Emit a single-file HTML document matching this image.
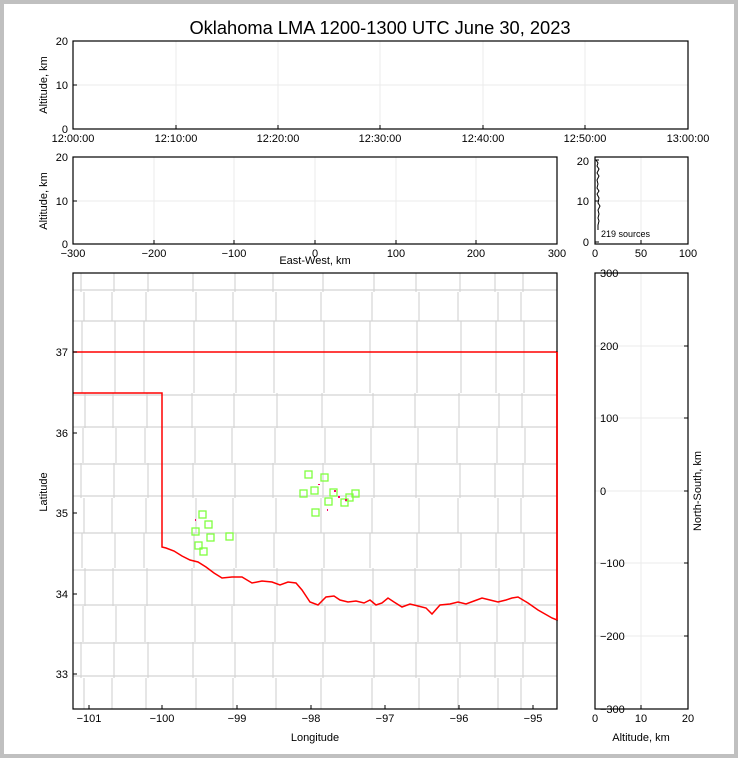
<!DOCTYPE html>
<html><head><meta charset="utf-8"><style>
html,body{margin:0;padding:0;background:#fff}
#w{position:relative;width:730px;height:750px;border:4px solid #c0c0c0;overflow:hidden}
svg{position:absolute;left:-4px;top:-4px;font-family:"Liberation Sans",sans-serif}
</style></head><body><div id="w">
<svg id="s" width="738" height="758" viewBox="0 0 738 758" xmlns="http://www.w3.org/2000/svg">
<g id="grid" stroke="#ebebeb" stroke-width="1"></g>
<g id="cty" stroke="#d4d4d4" stroke-width="1.2" fill="none"></g>
<path d="M73,352 L557,352 L557,620 L552,618 L545,614 L538,610 L528,603 L518,597 L512,598 L506,600 L498,602 L490,600 L482,598 L474,601 L466,604 L458,602 L450,604 L440,605 L432,614 L426,608 L418,606 L410,604 L402,607 L394,602 L388,598 L382,603 L376,605 L370,600 L364,603 L356,601 L348,602 L340,600 L334,596 L326,597 L318,605 L310,602 L302,590 L296,583 L288,582 L280,585 L272,582 L262,581 L252,583 L242,577 L232,577 L222,578 L214,573 L206,567 L198,562 L190,560 L182,556 L174,551 L166,548 L162,547 L162,393 L73,393" fill="none" stroke="#ff0000" stroke-width="1.5"/>
<g fill="none" stroke="#7fff3f" stroke-width="1.3">
<rect x="305" y="471" width="7" height="7"/><rect x="321" y="474" width="7" height="7"/><rect x="311" y="487" width="7" height="7"/><rect x="300" y="490" width="7" height="7"/><rect x="330" y="489" width="7" height="7"/><rect x="325" y="498" width="7" height="7"/><rect x="341" y="499" width="7" height="7"/><rect x="346" y="494" width="7" height="7"/><rect x="352" y="490" width="7" height="7"/><rect x="312" y="509" width="7" height="7"/>
<rect x="199" y="511" width="7" height="7"/><rect x="205" y="521" width="7" height="7"/><rect x="192" y="528" width="7" height="7"/><rect x="207" y="534" width="7" height="7"/><rect x="226" y="533" width="7" height="7"/><rect x="195" y="542" width="7" height="7"/><rect x="200" y="548" width="7" height="7"/>
</g>
<g fill="#ff0066"><rect x="334" y="490" width="2" height="2"/><rect x="338" y="496" width="2" height="2"/><rect x="345" y="499" width="2" height="2"/><rect x="327" y="509" width="1" height="2"/><rect x="195" y="519" width="1" height="2"/><rect x="318" y="484" width="2" height="1"/></g>
<path d="M596,160 l2,3 -1,3 2,3 -2,4 2,3 -2,4 1,4 -1,4 2,3 -2,3 2,4 -1,5 2,3 -2,4 1,4 -1,4 1,3 -1,4 0,5" fill="none" stroke="#000" stroke-width="1"/>
<text x="601" y="237" font-size="9">219 sources</text>
<g fill="none" stroke="#000" stroke-width="1.2">
<rect x="73" y="41" width="615" height="88"/>
<rect x="73" y="157" width="484" height="87"/>
<rect x="595" y="157" width="93" height="87"/>
<rect x="73" y="273" width="484" height="436"/>
<rect x="595" y="273" width="93" height="436"/>
</g>
<line x1="557" y1="352" x2="557" y2="620" stroke="#ff0000" stroke-width="1.5"/>
<g id="ticks" stroke="#000" stroke-width="1"></g>
<g font-size="11" fill="#000">
<text x="380" y="34" font-size="18.3" text-anchor="middle">Oklahoma LMA 1200-1300 UTC June 30, 2023</text>
<g text-anchor="end"><text x="68" y="45">20</text><text x="68" y="89">10</text><text x="68" y="133">0</text>
<text x="68" y="161">20</text><text x="68" y="205">10</text><text x="68" y="248">0</text>
<text x="589" y="165">20</text><text x="589" y="205">10</text><text x="589" y="246">0</text>
<text x="68" y="356">37</text><text x="68" y="437">36</text><text x="68" y="517">35</text><text x="68" y="598">34</text><text x="68" y="678">33</text></g>
<g text-anchor="middle">
<text x="73" y="142">12:00:00</text><text x="176" y="142">12:10:00</text><text x="278" y="142">12:20:00</text><text x="380" y="142">12:30:00</text><text x="483" y="142">12:40:00</text><text x="585" y="142">12:50:00</text><text x="688" y="142">13:00:00</text>
<text x="73" y="257">−300</text><text x="154" y="257">−200</text><text x="234" y="257">−100</text><text x="315" y="257">0</text><text x="396" y="257">100</text><text x="476" y="257">200</text><text x="557" y="257">300</text>
<text x="595" y="257">0</text><text x="641" y="257">50</text><text x="688" y="257">100</text>
<text x="315" y="264">East-West, km</text>
<text x="89" y="722">−101</text><text x="162" y="722">−100</text><text x="237" y="722">−99</text><text x="311" y="722">−98</text><text x="385" y="722">−97</text><text x="459" y="722">−96</text><text x="533" y="722">−95</text>
<text x="315" y="741">Longitude</text>
<text x="595" y="722">0</text><text x="641" y="722">10</text><text x="688" y="722">20</text>
<text x="641" y="741">Altitude, km</text>
</g>
<g text-anchor="start"><text x="600" y="277">300</text><text x="600" y="350">200</text><text x="600" y="422">100</text><text x="600" y="495">0</text><text x="600" y="567">−100</text><text x="600" y="640">−200</text><text x="600" y="713">−300</text></g>
<text transform="translate(47,85) rotate(-90)" text-anchor="middle">Altitude, km</text>
<text transform="translate(47,201) rotate(-90)" text-anchor="middle">Altitude, km</text>
<text transform="translate(47,492) rotate(-90)" text-anchor="middle">Latitude</text>
<text transform="translate(701,491) rotate(-90)" text-anchor="middle">North-South, km</text>
</g>
</svg></div>
<script>
var ns="http://www.w3.org/2000/svg";
function L(g,x1,y1,x2,y2){var e=document.createElementNS(ns,"line");e.setAttribute("x1",x1);e.setAttribute("y1",y1);e.setAttribute("x2",x2);e.setAttribute("y2",y2);document.getElementById(g).appendChild(e);}
[176,278,380,483,585].forEach(x=>L("grid",x,41,x,129));L("grid",73,85,688,85);
[154,234,315,396,476].forEach(x=>L("grid",x,157,x,244));L("grid",73,201,557,201);
[641].forEach(x=>{L("grid",x,157,x,244);L("grid",x,273,x,709);});L("grid",595,201,688,201);
[346,418,491,563,636].forEach(y=>L("grid",595,y,688,y));
function tx(xs,y0,d){xs.forEach(x=>L("ticks",x,y0,x,y0+d));}
function ty(ys,x0,d){ys.forEach(y=>L("ticks",x0,y,x0+d,y));}
tx([73,176,278,380,483,585,688],129,-4);ty([41,85,129],73,4);
tx([73,154,234,315,396,476,557],244,-4);ty([157,201,244],73,4);
tx([595,641,688],244,-4);ty([160,201,242],595,4);
tx([89,162,237,311,385,459,533],709,-4);ty([352,433,513,594,674],73,4);
tx([595,641,688],709,-4);ty([273,346,418,491,563,636,709],688,-4);
var xs=[83,114,146,194,234,275,323,372,417,459,497,523];
var ys=[292,321,393,428,463,498,533,568,606,642,678];
for(var i=0;i<xs.length;i++)for(var j=0;j<ys.length+1;j++){var y1=j==0?273:ys[j-1],y2=j==ys.length?709:ys[j];var o=((i*7+j*3)%5)-2;L("cty",xs[i]+o,y1,xs[i]+o,y2);}
for(var j=0;j<ys.length;j++)for(var i=0;i<xs.length+1;i++){var x1=i==0?73:xs[i-1],x2=i==xs.length?557:xs[i];var o=((i*5+j*7)%5)-2;L("cty",x1,ys[j]+o,x2,ys[j]+o);}
</script>
</body></html>
